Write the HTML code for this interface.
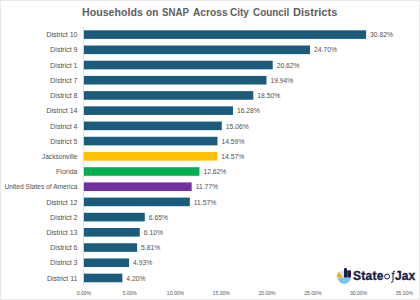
<!DOCTYPE html>
<html><head><meta charset="utf-8"><style>
html,body{margin:0;padding:0;}
body{width:420px;height:300px;position:relative;overflow:hidden;background:#fff;font-family:"Liberation Sans",sans-serif;}
.frame{position:absolute;left:0;top:0;width:418px;height:298px;border:1px solid #e9e9e9;}
.title{position:absolute;top:2.2px;font-size:11px;font-weight:bold;color:#5e5e5e;white-space:pre;line-height:20px;transform-origin:0 0;}
.axis{position:absolute;left:83px;top:27px;width:1px;height:259px;background:#d9d9d9;}
.bar{position:absolute;height:8.6px;}
.cat{position:absolute;right:342.5px;font-size:7px;line-height:10px;color:#505050;white-space:nowrap;text-align:right;}
.val{position:absolute;font-size:6.75px;line-height:10px;color:#505050;white-space:nowrap;}
.tick{position:absolute;top:288.7px;width:40px;text-align:center;font-size:5.1px;line-height:8px;color:#595959;}
.logo{position:absolute;left:330px;top:262px;}
.lt{position:absolute;top:268.8px;font-size:12px;line-height:15px;color:#1b1d4b;white-space:nowrap;font-weight:bold;-webkit-text-stroke:0.35px #1b1d4b;} .st{left:353px;letter-spacing:0.3px;} .jx{left:395px;letter-spacing:0.1px;}
</style></head><body>
<div class="frame"></div>
<div class="title" style="left:82.23px;transform:scaleX(0.966)">Households</div><div class="title" style="left:146.40px;transform:scaleX(0.915)">on</div><div class="title" style="left:161.50px;transform:scaleX(0.880)">SNAP</div><div class="title" style="left:193.10px;transform:scaleX(0.927)">Across</div><div class="title" style="left:229.80px;transform:scaleX(0.905)">City</div><div class="title" style="left:252.60px;transform:scaleX(0.900)">Council</div><div class="title" style="left:292.59px;transform:scaleX(1.009)">Districts</div>
<svg style="position:absolute;left:0;top:0" width="420" height="300" viewBox="0 0 420 300"><rect x="83" y="27" width="1" height="258.6" fill="#e3e3e3"/><rect x="83.90" y="30.30" width="282.19" height="8.6" fill="#1b5c7d"/><rect x="83.90" y="45.51" width="226.15" height="8.6" fill="#1b5c7d"/><rect x="83.90" y="60.72" width="188.80" height="8.6" fill="#1b5c7d"/><rect x="83.90" y="75.93" width="182.57" height="8.6" fill="#1b5c7d"/><rect x="83.90" y="91.14" width="169.39" height="8.6" fill="#1b5c7d"/><rect x="83.90" y="106.35" width="149.06" height="8.6" fill="#1b5c7d"/><rect x="83.90" y="121.56" width="137.89" height="8.6" fill="#1b5c7d"/><rect x="83.90" y="136.77" width="133.59" height="8.6" fill="#1b5c7d"/><rect x="83.90" y="151.98" width="133.40" height="8.6" fill="#ffc000"/><rect x="83.90" y="167.19" width="115.55" height="8.6" fill="#00b050"/><rect x="83.90" y="182.40" width="107.77" height="8.6" fill="#7030a0"/><rect x="83.90" y="197.61" width="105.93" height="8.6" fill="#1b5c7d"/><rect x="83.90" y="212.82" width="60.89" height="8.6" fill="#1b5c7d"/><rect x="83.90" y="228.03" width="55.85" height="8.6" fill="#1b5c7d"/><rect x="83.90" y="243.24" width="53.20" height="8.6" fill="#1b5c7d"/><rect x="83.90" y="258.45" width="45.14" height="8.6" fill="#1b5c7d"/><rect x="83.90" y="273.66" width="38.46" height="8.6" fill="#1b5c7d"/></svg>
<div class="cat" style="top:30.25px">District 10</div><div class="val" style="left:370.09px;top:30.25px">30.82%</div><div class="cat" style="top:45.46px">District 9</div><div class="val" style="left:314.05px;top:45.46px">24.70%</div><div class="cat" style="top:60.67px">District 1</div><div class="val" style="left:276.70px;top:60.67px">20.62%</div><div class="cat" style="top:75.88px">District 7</div><div class="val" style="left:270.47px;top:75.88px">19.94%</div><div class="cat" style="top:91.09px">District 8</div><div class="val" style="left:257.29px;top:91.09px">18.50%</div><div class="cat" style="top:106.30px">District 14</div><div class="val" style="left:236.96px;top:106.30px">16.28%</div><div class="cat" style="top:121.51px">District 4</div><div class="val" style="left:225.79px;top:121.51px">15.06%</div><div class="cat" style="top:136.72px">District 5</div><div class="val" style="left:221.49px;top:136.72px">14.59%</div><div class="cat" style="font-size:6.62px;top:151.93px">Jacksonville</div><div class="val" style="left:221.30px;top:151.93px">14.57%</div><div class="cat" style="top:167.14px">Florida</div><div class="val" style="left:203.45px;top:167.14px">12.62%</div><div class="cat" style="font-size:6.65px;top:182.35px">United States of America</div><div class="val" style="left:195.67px;top:182.35px">11.77%</div><div class="cat" style="top:197.56px">District 12</div><div class="val" style="left:193.83px;top:197.56px">11.57%</div><div class="cat" style="top:212.77px">District 2</div><div class="val" style="left:148.79px;top:212.77px">6.65%</div><div class="cat" style="top:227.98px">District 13</div><div class="val" style="left:143.75px;top:227.98px">6.10%</div><div class="cat" style="top:243.19px">District 6</div><div class="val" style="left:141.10px;top:243.19px">5.81%</div><div class="cat" style="top:258.40px">District 3</div><div class="val" style="left:133.04px;top:258.40px">4.93%</div><div class="cat" style="top:273.61px">District 11</div><div class="val" style="left:126.36px;top:273.61px">4.20%</div>
<div class="tick" style="left:63.90px">0.00%</div><div class="tick" style="left:109.68px">5.00%</div><div class="tick" style="left:155.46px">10.00%</div><div class="tick" style="left:201.24px">15.00%</div><div class="tick" style="left:247.02px">20.00%</div><div class="tick" style="left:292.80px">25.00%</div><div class="tick" style="left:338.58px">30.00%</div><div class="tick" style="left:384.36px">35.00%</div>
<svg class="logo" width="90" height="26" viewBox="0 0 90 26">
<path d="M7.7 15.5 A6.5 6.5 0 0 0 20.7 15.5 Z" fill="#74c7ef"/>
<path d="M14.2 15.5 L7.2 15.5 A7 7 0 0 1 14.2 8.5 Z" fill="#cde6f8"/>
<path d="M6.4 15.4 L8.3 9.8 L13.4 15.4 Z" fill="#f8a71c"/>
<path d="M14 15.4 L14 7 Q14 5.9 15.5 5.9 Q17 5.9 17 7 L17 15.4 Z" fill="#1b1d4b"/>
<path d="M17.2 15.4 L17.2 9.2 Q17.2 8.2 18.2 8.2 L20 8.2 Q21 8.2 21 9.2 L21 15.4 Z" fill="#1b1d4b"/>
<circle cx="57.1" cy="14.5" r="2.5" fill="none" stroke="#1b1d4b" stroke-width="1"/>
<path d="M65 9.2 Q63 8.6 63 11 L63 18.5 Q63 20.6 61 20.3 M61.5 11.6 L64.6 11.6" fill="none" stroke="#1b1d4b" stroke-width="1"/>
</svg>
<div class="lt st">State</div><div class="lt jx">Jax</div>
</body></html>
